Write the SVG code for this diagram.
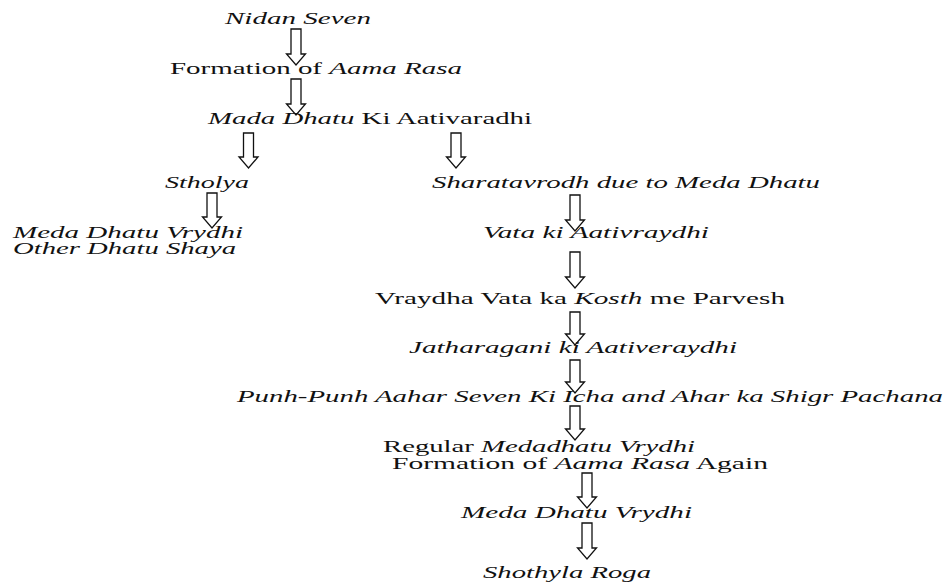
<svg xmlns="http://www.w3.org/2000/svg" width="946" height="582" viewBox="0 0 946 582">
<style>
text{font-family:"Liberation Serif","Times New Roman",serif;font-size:17px;fill:#111;}
.i{font-style:italic;}
.s{font-size:16px;}
.arr{fill:#fff;stroke:#111;stroke-width:1.3;stroke-linejoin:miter;}
</style>
<rect width="946" height="582" fill="#fff"/>
<g id="connectors">
<path class="arr" d="M291 29H301V54H305.5L296 65L286.5 54H291Z"/>
<path class="arr" d="M291 79H301V104H305.5L296 115L286.5 104H291Z"/>
<path class="arr" d="M243.5 133H253.5V157H258L248.5 168L239 157H243.5Z"/>
<path class="arr" d="M451 133H461V157H465.5L456 168L446.5 157H451Z"/>
<path class="arr" d="M207 193H217V217H221.5L212 228L202.5 217H207Z"/>
<path class="arr" d="M570 195H580V220H584.5L575 231L565.5 220H570Z"/>
<path class="arr" d="M570 252H580V277H584.5L575 288L565.5 277H570Z"/>
<path class="arr" d="M570 312H580V334H584.5L575 345L565.5 334H570Z"/>
<path class="arr" d="M570 360H580V382H584.5L575 393L565.5 382H570Z"/>
<path class="arr" d="M570 406H580V429H584.5L575 440L565.5 429H570Z"/>
<path class="arr" d="M582 473H592V497H596.5L587 508L577.5 497H582Z"/>
<path class="arr" d="M582 523H592V548H596.5L587 559L577.5 548H582Z"/>
</g>
<g id="n1"><text class="i" x="225" y="24" textLength="146" lengthAdjust="spacingAndGlyphs">Nidan Seven</text></g>
<g id="n2"><text x="170" y="74" textLength="292" lengthAdjust="spacingAndGlyphs">Formation of <tspan class="i">Aama Rasa</tspan></text></g>
<g id="n3"><text x="208" y="124" textLength="324" lengthAdjust="spacingAndGlyphs"><tspan class="i">Mada Dhatu</tspan> Ki Aativaradhi</text></g>
<g id="n4"><text class="i" x="165" y="188" textLength="84" lengthAdjust="spacingAndGlyphs">Stholya</text></g>
<g id="n5"><text class="i" x="432" y="188" textLength="388" lengthAdjust="spacingAndGlyphs">Sharatavrodh due to Meda Dhatu</text></g>
<g id="n6"><text class="i s" x="13" y="238" textLength="230" lengthAdjust="spacingAndGlyphs">Meda Dhatu Vrydhi</text><text class="i s" x="13" y="254" textLength="223" lengthAdjust="spacingAndGlyphs">Other Dhatu Shaya</text></g>
<g id="n7"><text class="i" x="483" y="238" textLength="226" lengthAdjust="spacingAndGlyphs">Vata ki Aativraydhi</text></g>
<g id="n8"><text x="375" y="304" textLength="410" lengthAdjust="spacingAndGlyphs">Vraydha Vata ka <tspan class="i">Kosth</tspan> me Parvesh</text></g>
<g id="n9"><text class="i" x="409" y="353" textLength="328" lengthAdjust="spacingAndGlyphs">Jatharagani ki Aativeraydhi</text></g>
<g id="n10"><text class="i" x="237" y="402" textLength="706" lengthAdjust="spacingAndGlyphs">Punh-Punh Aahar Seven Ki Icha and Ahar ka Shigr Pachana</text></g>
<g id="n11"><text x="383" y="452" textLength="312" lengthAdjust="spacingAndGlyphs">Regular <tspan class="i">Medadhatu Vrydhi</tspan></text><text x="392" y="469" textLength="376" lengthAdjust="spacingAndGlyphs">Formation of <tspan class="i">Aama Rasa</tspan> Again</text></g>
<g id="n12"><text class="i" x="461" y="518" textLength="231" lengthAdjust="spacingAndGlyphs">Meda Dhatu Vrydhi</text></g>
<g id="n13"><text class="i" x="483" y="578" textLength="168" lengthAdjust="spacingAndGlyphs">Shothyla Roga</text></g>
</svg>
